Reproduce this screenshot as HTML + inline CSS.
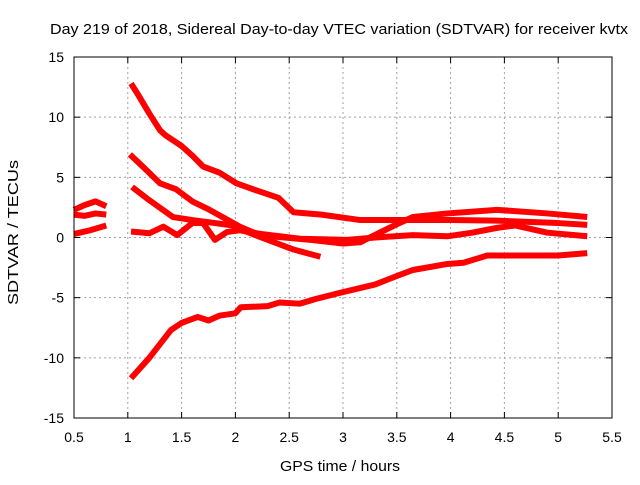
<!DOCTYPE html>
<html><head><meta charset="utf-8"><style>
body{margin:0;background:#fff}
svg{font-family:"Liberation Sans",sans-serif;font-size:14px}
</style></head><body>
<svg width="640" height="480">
<rect width="640" height="480" fill="#fff"/>
<text x="50" y="34" textLength="578" lengthAdjust="spacingAndGlyphs" style="font-size:15px">Day 219 of 2018, Sidereal Day-to-day VTEC variation (SDTVAR) for receiver kvtx</text>
<g id="grid"></g>
<g id="series"></g>
<rect x="74" y="57" width="538" height="361" fill="none" stroke="#000"/>
<g id="ticks"></g>
<text x="280" y="471" textLength="120" lengthAdjust="spacingAndGlyphs" style="font-size:15px">GPS time / hours</text>
<text transform="translate(18,305) rotate(-90)" textLength="145" lengthAdjust="spacingAndGlyphs" style="font-size:15px">SDTVAR / TECUs</text>
</svg>
<script>
const xTicks=[0.5,1,1.5,2,2.5,3,3.5,4,4.5,5,5.5];
const yTicks=[-15,-10,-5,0,5,10,15];
const s1=[[1.03,12.8],[1.1,11.8],[1.2,10.3],[1.3,8.9],[1.35,8.5],[1.5,7.6],[1.6,6.8],[1.7,5.9],[1.85,5.4],[2.01,4.5],[2.2,3.9],[2.4,3.3],[2.54,2.1],[2.8,1.9],[3.16,1.45],[3.5,1.45],[4.0,1.45],[4.43,1.4],[5.0,1.2],[5.27,1.05]];
const s2=[[1.02,6.9],[1.15,5.8],[1.3,4.5],[1.45,4.0],[1.6,3.0],[1.76,2.3],[1.9,1.6],[2.04,0.9],[2.2,0.3],[2.39,0.05],[2.7,-0.2],[3.0,-0.5],[3.16,-0.4],[3.34,0.4],[3.5,1.1],[3.65,1.7],[3.97,2.0],[4.43,2.3],[4.9,2.0],[5.27,1.7]];
const s3=[[1.04,4.2],[1.2,3.1],[1.42,1.7],[1.6,1.45],[1.98,1.0],[2.1,0.5],[2.23,0.04],[2.54,-1.0],[2.79,-1.6]];
const s4=[[1.03,0.5],[1.2,0.35],[1.33,0.9],[1.46,0.2],[1.6,1.2],[1.7,1.2],[1.81,-0.2],[1.92,0.45],[2.04,0.6],[2.23,0.3],[2.6,-0.1],[3.04,-0.2],[3.3,0],[3.65,0.2],[3.97,0.1],[4.2,0.4],[4.43,0.8],[4.6,1.0],[4.9,0.4],[5.27,0.1]];
const s5=[[1.03,-11.7],[1.2,-10],[1.4,-7.7],[1.5,-7.1],[1.65,-6.6],[1.75,-6.9],[1.85,-6.5],[2.0,-6.3],[2.05,-5.8],[2.3,-5.7],[2.41,-5.4],[2.6,-5.5],[2.75,-5.1],[2.97,-4.6],[3.3,-3.9],[3.5,-3.2],[3.65,-2.7],[3.97,-2.2],[4.12,-2.1],[4.34,-1.5],[4.6,-1.5],[5.0,-1.5],[5.27,-1.3]];
const s6=[[0.5,2.3],[0.6,2.7],[0.7,3.0],[0.8,2.6]];
const s7=[[0.5,1.9],[0.6,1.8],[0.7,2.0],[0.8,1.9]];
const s8=[[0.5,0.3],[0.65,0.6],[0.8,1.0]];
const allSeries=[s1,s2,s3,s4,s5,s6,s7,s8];
const NS="http://www.w3.org/2000/svg";
const X=v=>74+(v-0.5)/5*538, Y=v=>418-(v+15)/30*361;
const grid=document.getElementById('grid'),ticks=document.getElementById('ticks'),ser=document.getElementById('series');
function mk(t,a,p){const e=document.createElementNS(NS,t);for(const k in a)e.setAttribute(k,a[k]);p.appendChild(e);return e;}
xTicks.forEach(v=>{const x=X(v);
 if(v>0.5&&v<5.5){const l=mk('line',{x1:x,x2:x,y1:57,y2:418,stroke:'#a0a0a0','stroke-dasharray':'2,3'},grid);
 
 }
 mk('line',{x1:x,x2:x,y1:418,y2:412,stroke:'#000'},ticks);mk('line',{x1:x,x2:x,y1:57,y2:63,stroke:'#000'},ticks);
 const t=mk('text',{x:x,y:442,'text-anchor':'middle'},ticks);t.textContent=String(v);
 
 });
yTicks.forEach(v=>{const y=Y(v);
 if(v>-15&&v<15){const l=mk('line',{x1:74,x2:612,y1:y,y2:y,stroke:'#a0a0a0','stroke-dasharray':'2,3'},grid);
 
 }
 mk('line',{x1:74,x2:80,y1:y,y2:y,stroke:'#000'},ticks);mk('line',{x1:612,x2:606,y1:y,y2:y,stroke:'#000'},ticks);
 const t=mk('text',{x:64,y:y+5,'text-anchor':'end'},ticks);t.textContent=String(v);
 
 });
allSeries.forEach((s,i)=>{const p=mk('polyline',{points:s.map(d=>X(d[0])+','+Y(d[1])).join(' '),fill:'none',stroke:'#f00','stroke-width':6,'stroke-linejoin':'round'},ser);
 
 });
</script>
</body></html>
